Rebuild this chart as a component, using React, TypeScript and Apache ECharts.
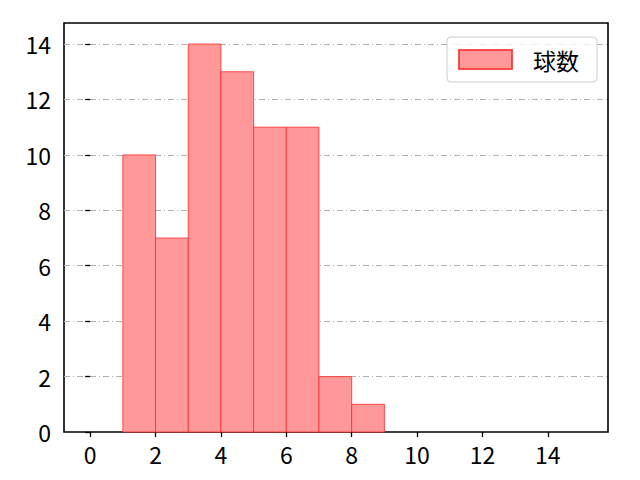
import React, { useEffect, useRef } from 'react';
import * as echarts from 'echarts';

// histogram bins (left edge, right edge) and counts
const binStarts = [1, 2, 3, 4, 5, 6, 7, 8];
const binEnds = [2, 3, 4, 5, 6, 7, 8, 9];
const counts = [10, 7, 14, 13, 11, 11, 2, 1];
const xTicks = [0, 2, 4, 6, 8, 10, 12, 14];
const yTicks = [0, 2, 4, 6, 8, 10, 12, 14];
const seriesName = '球数';

const FONT = 'Noto Sans CJK JP';

const App: React.FC = () => {
  const chartRef = useRef<HTMLDivElement>(null);

  useEffect(() => {
    if (!chartRef.current) return;
    const chart = echarts.init(chartRef.current, undefined, { renderer: 'svg' });

    const labelFont = {
      color: '#000',
      fontSize: 23,
      fontFamily: FONT
    };

    const option: echarts.EChartsOption = {
      animation: false,
      backgroundColor: '#fff',
      grid: {
        left: 64,
        right: 32,
        top: 23,
        bottom: 48,
        show: true,
        borderColor: '#000',
        borderWidth: 1.6,
        backgroundColor: 'transparent'
      },
      legend: {
        data: [seriesName],
        left: 447,
        top: 37,
        orient: 'vertical',
        icon: 'rect',
        itemWidth: 53,
        itemHeight: 19,
        padding: [11, 18, 11, 11],
        borderColor: '#cccccc',
        borderWidth: 1,
        borderRadius: 4,
        backgroundColor: 'rgba(255,255,255,0.8)',
        textStyle: {
          color: '#000',
          fontSize: 23,
          fontFamily: FONT,
          padding: [0, 0, 0, 16]
        }
      },
      xAxis: {
        type: 'value',
        min: -0.8,
        max: 15.84,
        axisLine: { show: false },
        axisTick: {
          show: true,
          inside: false,
          length: 5,
          customValues: xTicks,
          lineStyle: { color: '#000', width: 1.3 }
        },
        axisLabel: {
          ...labelFont,
          margin: 10,
          customValues: xTicks
        },
        splitLine: { show: false }
      },
      yAxis: {
        type: 'value',
        min: 0,
        max: 14.76,
        axisLine: { show: false },
        axisTick: {
          show: true,
          inside: false,
          length: 5,
          customValues: yTicks,
          lineStyle: { color: '#000', width: 1.3 }
        },
        axisLabel: {
          ...labelFont,
          margin: 13,
          customValues: yTicks
        },
        splitLine: {
          show: true,
          showMinLine: false,
          lineStyle: {
            color: '#b0b0b0',
            width: 1,
            type: [6, 3, 1, 3]
          }
        }
      } as any,
      series: [
        {
          name: seriesName,
          type: 'custom',
          itemStyle: {
            color: '#ff9999',
            borderColor: 'rgba(255,40,40,0.8)',
            borderWidth: 1
          },
          encode: { x: [0, 1], y: 2 },
          data: binStarts.map((s, i) => [s, binEnds[i], counts[i]]),
          renderItem: (params: any, api: any) => {
            const p0 = api.coord([api.value(0), 0]);
            const p1 = api.coord([api.value(1), api.value(2)]);
            return {
              type: 'rect',
              shape: {
                x: p0[0],
                y: p1[1],
                width: p1[0] - p0[0],
                height: p0[1] - p1[1]
              },
              style: {
                fill: '#ff9999',
                stroke: 'rgba(255,40,40,0.8)',
                lineWidth: 1
              }
            };
          }
        }
      ] as any
    };

    chart.setOption(option);

    return () => {
      chart.dispose();
    };
  }, []);

  return <div ref={chartRef} style={{ width: 640, height: 480, margin: -8 }} />;
};

export default App;
